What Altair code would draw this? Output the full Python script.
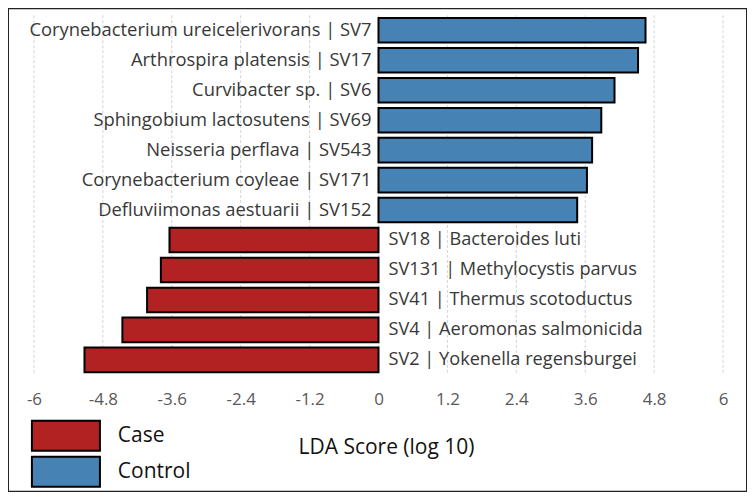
import altair as alt
import pandas as pd

# ---- data ----
labels = [
    "Corynebacterium ureicelerivorans | SV7",
    "Arthrospira platensis | SV17",
    "Curvibacter sp. | SV6",
    "Sphingobium lactosutens | SV69",
    "Neisseria perflava | SV543",
    "Corynebacterium coyleae | SV171",
    "Defluviimonas aestuarii | SV152",
    "SV18 | Bacteroides luti",
    "SV131 | Methylocystis parvus",
    "SV41 | Thermus scotoductus",
    "SV4 | Aeromonas salmonicida",
    "SV2 | Yokenella regensburgei",
]
scores = [4.65, 4.52, 4.11, 3.88, 3.72, 3.63, 3.46,
          -3.64, -3.79, -4.03, -4.46, -5.12]
groups = ["Control"] * 7 + ["Case"] * 5
tick_values = [-6, -4.8, -3.6, -2.4, -1.2, 0, 1.2, 2.4, 3.6, 4.8, 6]

FONT = "Open Sans"

df = pd.DataFrame({
    "label": labels,
    "score": scores,
    "group": groups,
    "row": list(range(len(labels))),
})
grid_df = pd.DataFrame({"tick": tick_values, "top": -0.5, "bottom": len(labels) - 0.5})

xscale = alt.Scale(domain=[-6.4522, 6.4174], nice=False, zero=False)
yscale = alt.Scale(domain=[-0.7333, 15.4], nice=False, zero=False, reverse=True)

grid = alt.Chart(grid_df).mark_rule(
    color="#d4d4d4", strokeWidth=1, strokeDash=[3, 2]
).encode(
    x=alt.X("tick:Q", scale=xscale,
            axis=alt.Axis(values=tick_values, orient="bottom", offset=-92,
                          ticks=False, domain=False, grid=False,
                          labelPadding=0, labelBaseline="middle",
                          labelFont=FONT, labelFontSize=17, labelColor="#595959",
                          labelExpr="'' + datum.value",
                          title="LDA Score (log 10)", titleFont=FONT,
                          titleFontSize=21, titleFontWeight="normal",
                          titleColor="#111111", titleX=378.5, titleY=48,
                          titleAlign="center", titleBaseline="middle")),
    y=alt.Y("top:Q", scale=yscale, axis=None),
    y2="bottom:Q",
)

bars = alt.Chart(df).transform_calculate(
    y0="datum.row - 0.41", y1="datum.row + 0.41", zero="0"
).mark_rect(stroke="black", strokeWidth=2).encode(
    x=alt.X("zero:Q", scale=xscale),
    x2="score:Q",
    y=alt.Y("y0:Q", scale=yscale, axis=None),
    y2="y1:Q",
    fill=alt.Fill("group:N",
                  scale=alt.Scale(domain=["Case", "Control"],
                                  range=["#B22222", "#4682B4"]),
                  legend=alt.Legend(
                      title=None, orient="none", legendX=42, legendY=412,
                      padding=0, symbolType="M-2.27,-1H2.27V1H-2.27Z",
                      symbolSize=900, symbolStrokeColor="black",
                      symbolStrokeWidth=2, symbolOpacity=1,
                      labelOffset=36, rowPadding=-2,
                      labelFont=FONT, labelFontSize=21, labelColor="#111111")),
)

text_pos = alt.Chart(df).transform_filter("datum.score > 0").transform_calculate(
    zero="0").mark_text(
    align="right", baseline="middle", dx=-7, font=FONT, fontSize=18.4, color="#383838"
).encode(
    x=alt.X("zero:Q", scale=xscale),
    y=alt.Y("row:Q", scale=yscale),
    text="label:N",
)

text_neg = alt.Chart(df).transform_filter("datum.score < 0").transform_calculate(
    zero="0").mark_text(
    align="left", baseline="middle", dx=10, font=FONT, fontSize=18.2, color="#383838"
).encode(
    x=alt.X("zero:Q", scale=xscale),
    y=alt.Y("row:Q", scale=yscale),
    text="label:N",
)

chart = alt.layer(grid, bars, text_pos, text_neg).properties(
    width=740, height=484, padding=0
).configure_view(
    stroke="#222222", strokeWidth=2
)

chart.save("out.html", embed_options={"renderer": "svg", "actions": False})
